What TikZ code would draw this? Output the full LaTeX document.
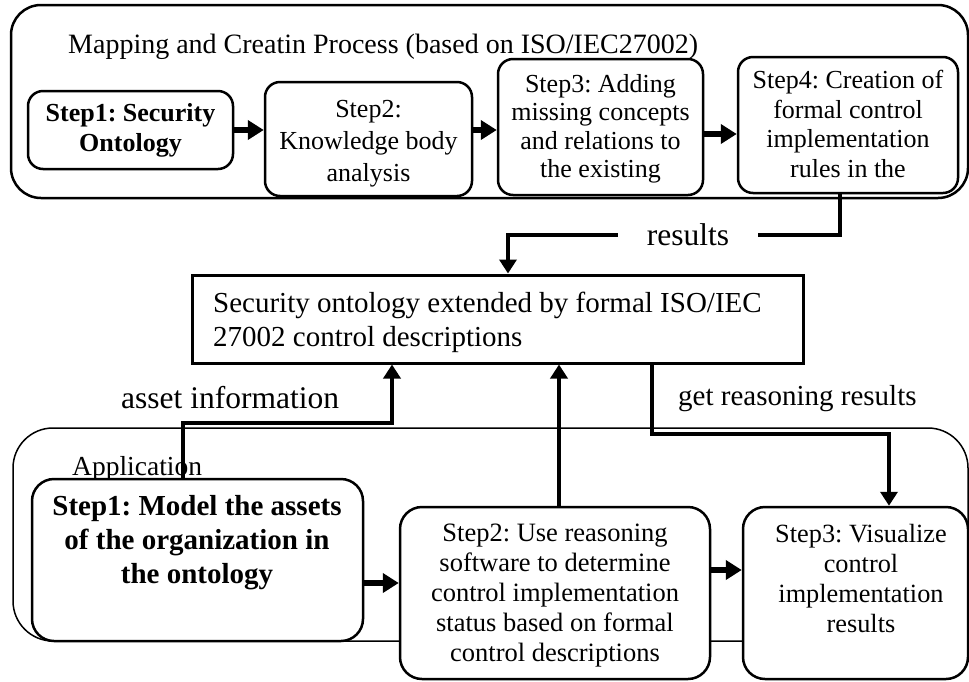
\documentclass[tikz,border=0pt]{standalone}
\usepackage{fontspec}
\setmainfont{Liberation Serif}
\usetikzlibrary{arrows.meta,calc}
\frenchspacing
\tikzset{
  stepbox/.style={draw, line width=2.5pt, rounded corners=15pt, fill=white, inner sep=0pt},
  bigbox/.style={draw, line width=2.5pt, rounded corners=22pt, fill=white, inner sep=0pt},
  txt/.style={inner sep=0pt, align=center, anchor=north},
  lbl/.style={inner sep=0pt, anchor=base west},
  conn/.style={line width=3.5pt, -{Triangle[length=14pt,width=17pt]}},
  plain/.style={line width=3.5pt},
  flow/.style={line width=6.5pt, -{Triangle[length=16pt,width=19pt]}},
}
\begin{document}
\begin{tikzpicture}[x=1pt,y=-1pt]
\useasboundingbox (0,0) rectangle (969,681);
% top group
\draw[line width=2.5pt, rounded corners=30pt] (11,5) rectangle (968,198);
\node[lbl, font=\fontsize{28}{32}\selectfont] (title) at (68,53) {Mapping and Creatin Process (based on ISO/IEC27002)};
\node[stepbox, minimum width=205pt, minimum height=78pt, align=center,
      font=\fontsize{26}{30}\selectfont\bfseries] (s1) at (130.5,130) {Step1: Security\\Ontology};
\node[stepbox, minimum width=207pt, minimum height=114pt] (s2) at (368.5,139) {};
\node[stepbox, minimum width=205pt, minimum height=136pt] (s3) at (600.5,127) {};
\node[stepbox, minimum width=220pt, minimum height=136pt] (s4) at (848,125) {};
\node[txt, font=\fontsize{26}{32}\selectfont] (s2t) at (368.5,100) {Step2:\\Knowledge body\\analysis};
\node[txt, font=\fontsize{26}{28.5}\selectfont] (s3t) at (600.5,74) {Step3: Adding\\missing concepts\\and relations to\\the existing};
\node[txt, font=\fontsize{26}{29.5}\selectfont] (s4t) at (848,70) {Step4: Creation of\\formal control\\implementation\\rules in the};
\coordinate (ya) at (0,130);
\coordinate (yb) at (0,134);
\draw[flow] (s1.east |- ya) -- (s2.west |- ya);
\draw[flow] (s2.east |- ya) -- (s3.west |- ya);
\draw[flow] (s3.east |- yb) -- (s4.west |- yb);
% middle box
\node[draw, line width=3pt, fill=white, minimum width=611pt, minimum height=88pt, inner sep=0pt] (m) at (497.5,319) {};
\node[inner sep=0pt, align=left, anchor=north west, font=\fontsize{29}{33.5}\selectfont] (mt) at (213,292)
  {Security ontology extended by formal ISO/IEC\\27002 control descriptions};
% results connector
\node[inner sep=0pt, minimum width=140pt, minimum height=20pt, font=\fontsize{31.5}{36}\selectfont] (res) at (688,235) {results};
\coordinate (r1) at (840,235);
\coordinate (r2) at (508,235);
\draw[plain] (s4.south -| r1) -- (r1) -- (res.east);
\draw[conn] (res.west) -- (r2) -- (m.north -| r2);
% bottom group
\draw[line width=1.5pt, rounded corners=40pt] (13,428) rectangle (968,641);
\node[lbl, font=\fontsize{27.5}{32}\selectfont] (app) at (72,475) {Application};
\node[bigbox, minimum width=331pt, minimum height=162pt] (b1) at (197.5,560) {};
\node[bigbox, minimum width=310pt, minimum height=172pt] (b2) at (555,593) {};
\node[bigbox, minimum width=225pt, minimum height=172pt] (b3) at (855.5,593) {};
\node[txt, font=\fontsize{29}{34}\selectfont\bfseries] (b1t) at (197,495) {Step1: Model the assets\\of the organization in\\the ontology};
\node[txt, font=\fontsize{26.5}{30}\selectfont] (b2t) at (555,523.5) {Step2: Use reasoning\\software to determine\\control implementation\\status based on formal\\control descriptions};
\node[txt, font=\fontsize{26.3}{30}\selectfont] (b3t) at (861,524) {Step3: Visualize\\control\\implementation\\results};
\coordinate (yc) at (0,583);
\coordinate (yd) at (0,570);
\draw[flow] (b1.east |- yc) -- (b2.west |- yc);
\draw[flow] (b2.east |- yd) -- (b3.west |- yd);
% labels
\node[lbl, font=\fontsize{31.5}{36}\selectfont] (ai) at (121,408) {asset information};
\node[lbl, font=\fontsize{29}{34}\selectfont] (gr) at (678,405) {get reasoning results};
% connectors to / from middle box
\coordinate (a1) at (183,423);
\coordinate (a2) at (392,423);
\draw[conn] (b1.north -| a1) -- (a1) -- (a2) -- (m.south -| a2);
\coordinate (u) at (559,0);
\draw[conn] (b2.north -| u) -- (m.south -| u);
\coordinate (g1) at (652,434);
\coordinate (g2) at (889,434);
\draw[conn] (m.south -| g1) -- (g1) -- (g2) -- (b3.north -| g2);
\end{tikzpicture}
\end{document}
